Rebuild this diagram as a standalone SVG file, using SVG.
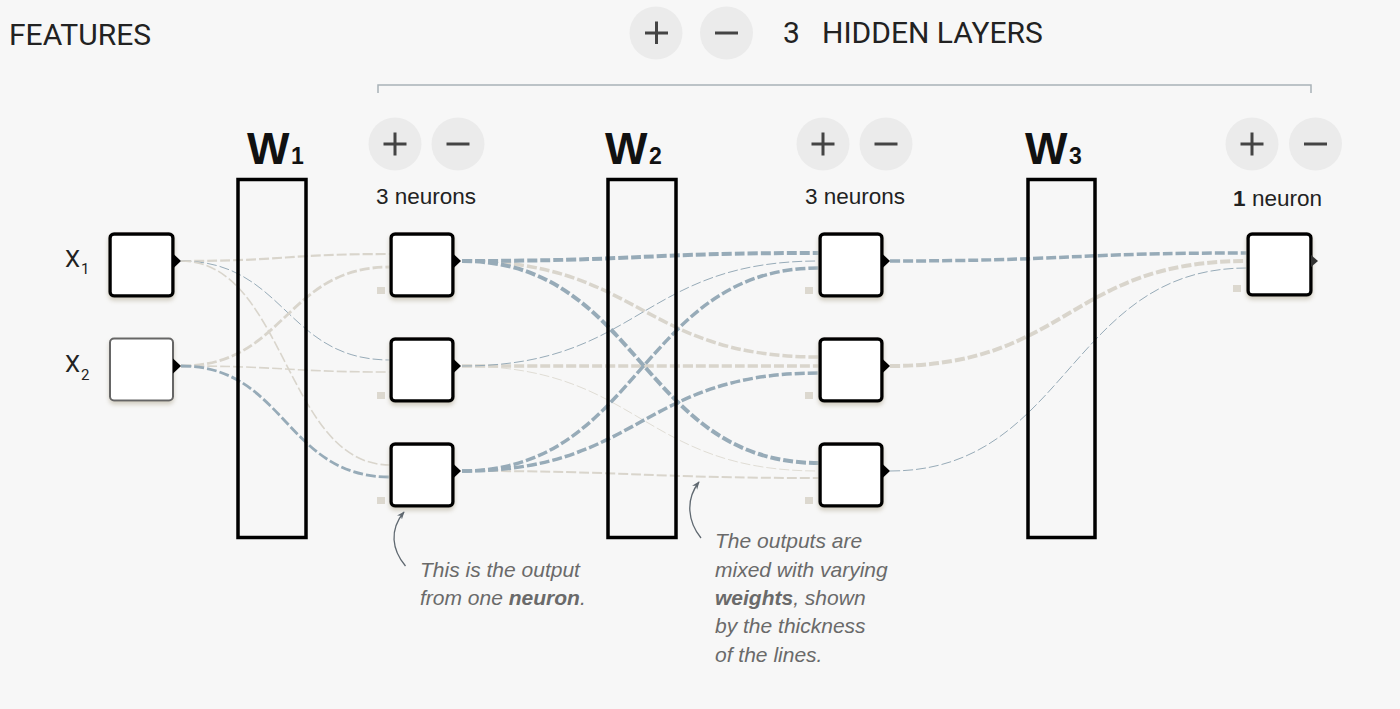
<svg xmlns="http://www.w3.org/2000/svg" width="1400" height="709" viewBox="0 0 1400 709">
<defs>
<style>
.hdr{font-family:Roboto,"Liberation Sans",sans-serif;font-size:30px;fill:#222}
.lbl{font-family:"Liberation Sans",Arial,sans-serif;font-size:22.5px;fill:#222}
.wl{font-family:"Liberation Sans",Arial,sans-serif;font-weight:bold;fill:#111}
.xl{font-family:Roboto,"Liberation Sans",sans-serif;fill:#222}
.note{font-family:"Liberation Sans",Arial,sans-serif;font-style:italic;font-size:21px;fill:#6a6a6a}
.btn{fill:#ebebeb}
.sign{stroke:#444;stroke-width:3;fill:none}
.node{fill:#fff;stroke:#000;stroke-width:3.5;filter:url(#sh)}
.wbox{fill:none;stroke:#000;stroke-width:3.5}
.tri{fill:#000}
.bias{fill:#dcd8cf}
.lk{fill:none;stroke-dasharray:10 3}
.pos{stroke:#97abb8}
.neg{stroke:#d9d5cc}
.ann{fill:none;stroke:#5f6870;stroke-width:1.3}
</style>
<filter id="sh" x="-20%" y="-20%" width="140%" height="150%">
<feDropShadow dx="0" dy="3" stdDeviation="2" flood-color="#cfcabd" flood-opacity="0.9"/>
</filter>
<marker id="ah" viewBox="0 0 10 10" refX="9" refY="5" markerWidth="8" markerHeight="8" markerUnits="userSpaceOnUse" orient="auto">
<path d="M0,1 L10,5 L0,9 L3,5 Z" fill="#5f6870"/>
</marker>
</defs>
<rect width="1400" height="709" fill="#f7f7f7"/>

<g id="header">
<text class="hdr" x="9" y="45">FEATURES</text>
<g id="top-buttons">
<circle class="btn" cx="656" cy="33" r="26.5"/>
<path class="sign" d="M645,33 H668 M656.5,21.5 V44"/>
<circle class="btn" cx="726.5" cy="33" r="26.5"/>
<path class="sign" d="M715,33 H738"/>
</g>
<text class="hdr" x="783" y="43">3</text>
<text class="hdr" x="822" y="43">HIDDEN LAYERS</text>
<path d="M378,93 V85 H1311 V93" fill="none" stroke="#a9b2b8" stroke-width="1.5"/>
</g>

<g id="layer-buttons">
<circle class="btn" cx="395" cy="144" r="26.5"/>
<path class="sign" d="M383.5,144 H406.5 M395,132.5 V155.5"/>
<circle class="btn" cx="458" cy="144" r="26.5"/>
<path class="sign" d="M446.5,144 H469.5"/>
<circle class="btn" cx="823" cy="144" r="26.5"/>
<path class="sign" d="M811.5,144 H834.5 M823,132.5 V155.5"/>
<circle class="btn" cx="886" cy="144" r="26.5"/>
<path class="sign" d="M874.5,144 H897.5"/>
<circle class="btn" cx="1252" cy="144" r="26.5"/>
<path class="sign" d="M1240.5,144 H1263.5 M1252,132.5 V155.5"/>
<circle class="btn" cx="1315.5" cy="144" r="26.5"/>
<path class="sign" d="M1304,144 H1327"/>
<text class="lbl" x="376" y="204">3 neurons</text>
<text class="lbl" x="805" y="204">3 neurons</text>
<text class="lbl" x="1233" y="206"><tspan font-weight="bold">1</tspan><tspan x="1252">neuron</tspan></text>
</g>

<g id="connectors">
<!-- input -> hidden 1 -->
<path class="lk neg" stroke-width="2.2" d="M181,261 C285.5,261 285.5,254 390,254"/>
<path class="lk pos" stroke-width="1" d="M181,261 C285.5,261 285.5,360 390,360"/>
<path class="lk neg" stroke-width="1.6" d="M181,261 C285.5,261 285.5,465 390,465"/>
<path class="lk neg" stroke-width="2.8" d="M181,366 C285.5,366 285.5,267 390,267"/>
<path class="lk neg" stroke-width="1.6" d="M181,366 C285.5,366 285.5,372 390,372"/>
<path class="lk pos" stroke-width="2.8" d="M181,366 C285.5,366 285.5,477 390,477"/>
<!-- hidden 1 -> hidden 2 -->
<path class="lk neg" stroke-width="3.5" d="M462,261 C640.5,261 640.5,357 819,357"/>
<path class="lk neg" stroke-width="3.5" d="M462,366 C640.5,366 640.5,366 819,366"/>
<path class="lk neg" stroke-width="0.8" d="M462,366 C640.5,366 640.5,471 819,471"/>
<path class="lk neg" stroke-width="2" d="M462,471 C640.5,471 640.5,478 819,478"/>
<path class="lk pos" stroke-width="1" d="M462,366 C640.5,366 640.5,261 819,261"/>
<path class="lk pos" stroke-width="4" d="M462,261 C640.5,261 640.5,253 819,253"/>
<path class="lk pos" stroke-width="4" d="M462,261 C640.5,261 640.5,463 819,463"/>
<path class="lk pos" stroke-width="3.5" d="M462,471 C640.5,471 640.5,268 819,268"/>
<path class="lk pos" stroke-width="3.5" d="M462,471 C640.5,471 640.5,373 819,373"/>
<!-- hidden 2 -> output -->
<path class="lk neg" stroke-width="4" d="M890,366 C1068.5,366 1068.5,261 1247,261"/>
<path class="lk pos" stroke-width="3.5" d="M890,261 C1068.5,261 1068.5,253 1247,253"/>
<path class="lk pos" stroke-width="1" d="M890,471 C1068.5,471 1068.5,268 1247,268"/>
</g>

<g id="weights">
<g id="w1">
<text class="wl" x="247" y="164" font-size="45">W</text>
<text class="wl" x="291" y="164" font-size="23">1</text>
<rect class="wbox" x="238" y="179.5" width="68" height="358"/>
</g>
<g id="w2">
<text class="wl" x="605" y="164" font-size="45">W</text>
<text class="wl" x="649" y="164" font-size="23">2</text>
<rect class="wbox" x="608" y="179.5" width="68" height="358"/>
</g>
<g id="w3">
<text class="wl" x="1025" y="164" font-size="45">W</text>
<text class="wl" x="1069" y="164" font-size="23">3</text>
<rect class="wbox" x="1028" y="179.5" width="67" height="358"/>
</g>
</g>

<g id="node-x1">
<text class="xl" x="65" y="267" font-size="24">X</text>
<text class="xl" x="81" y="274" font-size="15">1</text>
<rect class="node" x="110" y="234" width="63" height="62" rx="4"/>
<path class="tri" d="M173,253.5 L181,261 L173,268.5 Z"/>
</g>
<g id="node-x2">
<text class="xl" x="65" y="372" font-size="24">X</text>
<text class="xl" x="81" y="380" font-size="15">2</text>
<rect class="node" x="110" y="338.5" width="63" height="62" rx="4" style="stroke:#666;stroke-width:2"/>
<path class="tri" d="M173,358.5 L181,366 L173,373.5 Z"/>
</g>

<g id="node-h1-1">
<rect class="bias" x="377" y="287" width="8" height="7"/>
<rect class="node" x="391" y="234" width="62" height="62" rx="4"/>
<path class="tri" d="M453,253.5 L461,261 L453,268.5 Z"/>
</g>
<g id="node-h1-2">
<rect class="bias" x="377" y="392" width="8" height="7"/>
<rect class="node" x="391" y="339" width="62" height="62" rx="4"/>
<path class="tri" d="M453,358.5 L461,366 L453,373.5 Z"/>
</g>
<g id="node-h1-3">
<rect class="bias" x="377" y="497" width="8" height="7"/>
<rect class="node" x="391" y="444" width="62" height="62" rx="4"/>
<path class="tri" d="M453,463.5 L461,471 L453,478.5 Z"/>
</g>

<g id="node-h2-1">
<rect class="bias" x="805" y="287" width="8" height="7"/>
<rect class="node" x="820" y="234" width="62" height="62" rx="4"/>
<path class="tri" d="M882,253.5 L890,261 L882,268.5 Z"/>
</g>
<g id="node-h2-2">
<rect class="bias" x="805" y="392" width="8" height="7"/>
<rect class="node" x="820" y="339" width="62" height="62" rx="4"/>
<path class="tri" d="M882,358.5 L890,366 L882,373.5 Z"/>
</g>
<g id="node-h2-3">
<rect class="bias" x="805" y="497" width="8" height="7"/>
<rect class="node" x="820" y="444" width="62" height="62" rx="4"/>
<path class="tri" d="M882,463.5 L890,471 L882,478.5 Z"/>
</g>

<g id="node-out">
<rect class="bias" x="1233" y="285" width="8" height="7"/>
<rect class="node" x="1248" y="234" width="63" height="61" rx="4"/>
<path d="M1311,255 L1318,261 L1311,267 Z" fill="#333"/>
</g>

<g id="annotations">
<path class="ann" marker-end="url(#ah)" d="M405.5,566 C392,550 389,530 404,512"/>
<text class="note" x="420" y="577">This is the output</text>
<text class="note" x="420" y="605">from one <tspan font-weight="bold">neuron</tspan>.</text>
<path class="ann" marker-end="url(#ah)" d="M701,538 C688,522 685,500 699,482"/>
<text class="note" x="715" y="548">The outputs are</text>
<text class="note" x="715" y="577">mixed with varying</text>
<text class="note" x="715" y="605"><tspan font-weight="bold">weights</tspan>, shown</text>
<text class="note" x="715" y="633">by the thickness</text>
<text class="note" x="715" y="662">of the lines.</text>
</g>
</svg>
